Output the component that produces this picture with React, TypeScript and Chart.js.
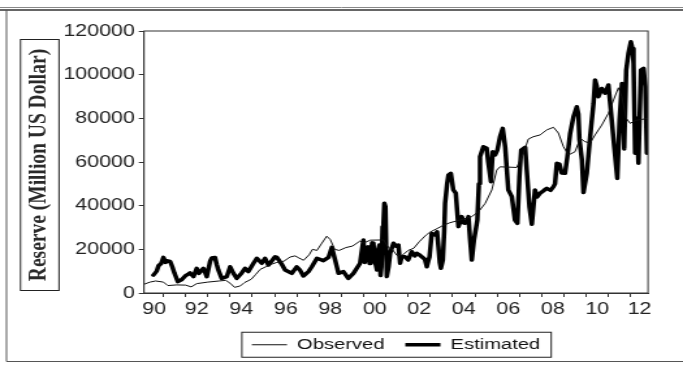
import { useEffect, useRef } from 'react';
import { Chart, registerables } from 'chart.js';

Chart.register(...registerables);

// ---------- data ----------
const OBS_T = [
  1990.13, 1990.4, 1990.65, 1991.0, 1991.2, 1991.6, 1992.0, 1992.25, 1992.5, 1993.0,
  1993.5, 1993.8, 1994.0, 1994.2, 1994.45, 1994.65, 1994.95, 1995.15, 1995.35, 1995.6,
  1995.8, 1996.1, 1996.4, 1996.7, 1996.92, 1997.1, 1997.3, 1997.55, 1997.7, 1997.9,
  1998.1, 1998.34, 1998.5, 1998.7, 1998.9, 1999.2, 1999.5, 1999.84, 2000.0, 2000.3,
  2000.9, 2001.1, 2001.3, 2001.5, 2001.7, 2002.0, 2002.25, 2002.5, 2002.8, 2003.0,
  2003.3, 2003.58, 2003.88, 2004.33, 2004.86, 2005.16, 2005.46, 2005.76, 2005.98, 2006.13,
  2006.88, 2007.18, 2007.4, 2007.63, 2007.93, 2008.23, 2008.53, 2008.75, 2008.98, 2009.2,
  2009.5, 2009.73, 2009.95, 2010.18, 2010.4, 2010.7, 2011.0, 2011.23, 2011.45, 2011.6,
  2011.8, 2011.98, 2012.2, 2012.5, 2012.78,
];
const OBS_V = [
  4000, 5000, 5500, 5000, 3400, 3700, 3600, 2800, 4300, 5000,
  5500, 5800, 4500, 2600, 3200, 4800, 6300, 8500, 10800, 12000,
  13000, 14000, 14500, 16500, 17000, 16000, 15000, 17500, 20000, 19500,
  22500, 26000, 24500, 20000, 19500, 20800, 21500, 23800, 22900, 24200,
  24300, 21000, 19800, 17200, 17000, 19500, 20500, 23500, 26500, 28000,
  29500, 31000, 32200, 33400, 35000, 37200, 41000, 47200, 56300, 57800,
  57500, 64100, 70500, 71600, 72400, 74700, 75900, 73300, 67000, 63200,
  64700, 70800, 69300, 68700, 72400, 76900, 82300, 88400, 94000, 90000,
  80000, 77700, 79000, 79500, 80000,
];

const EST_T = [
  1990.55, 1990.7, 1990.78, 1990.9, 1991.0, 1991.1, 1991.15, 1991.3, 1991.4, 1991.5,
  1991.65, 1991.83, 1991.98, 1992.1, 1992.2, 1992.35, 1992.5, 1992.6, 1992.8, 1992.95,
  1993.1, 1993.17, 1993.32, 1993.4, 1993.47, 1993.62, 1993.85, 1994.0, 1994.15, 1994.3,
  1994.52, 1994.67, 1994.82, 1995.05, 1995.2, 1995.42, 1995.57, 1995.72, 1996.02, 1996.1,
  1996.3, 1996.47, 1996.77, 1996.99, 1997.14, 1997.29, 1997.52, 1997.67, 1997.9, 1998.19,
  1998.42, 1998.57, 1998.72, 1998.87, 1999.09, 1999.31, 1999.54, 1999.84, 1999.9, 1999.99,
  2000.05, 2000.1, 2000.15, 2000.2, 2000.27, 2000.32, 2000.38, 2000.44, 2000.5, 2000.6,
  2000.66, 2000.71, 2000.76, 2000.8, 2000.85, 2000.89, 2000.93, 2000.98, 2001.04, 2001.12,
  2001.19, 2001.34, 2001.45, 2001.56, 2001.64, 2001.71, 2001.86, 2002.0, 2002.16, 2002.3,
  2002.39, 2002.5, 2002.61, 2002.75, 2002.84, 2002.9, 2002.96, 2003.06, 2003.21, 2003.3,
  2003.36, 2003.42, 2003.47, 2003.56, 2003.62, 2003.66, 2003.75, 2003.81, 2003.92, 2004.03,
  2004.14, 2004.2, 2004.26, 2004.35, 2004.41, 2004.5, 2004.56, 2004.65, 2004.71, 2004.78,
  2004.86, 2004.96, 2005.11, 2005.18, 2005.23, 2005.38, 2005.53, 2005.6, 2005.72, 2005.8,
  2005.91, 2006.01, 2006.13, 2006.25, 2006.36, 2006.5, 2006.66, 2006.8, 2006.91, 2007.0,
  2007.08, 2007.26, 2007.33, 2007.45, 2007.56, 2007.7, 2007.8, 2007.93, 2008.1, 2008.23,
  2008.4, 2008.53, 2008.6, 2008.68, 2008.8, 2008.9, 2009.05, 2009.15, 2009.28, 2009.43,
  2009.58, 2009.65, 2009.7, 2009.81, 2009.88, 2010.03, 2010.18, 2010.33, 2010.4, 2010.47,
  2010.55, 2010.7, 2010.85, 2011.0, 2011.15, 2011.26, 2011.4, 2011.5, 2011.61, 2011.71,
  2011.8, 2011.9, 2012.01, 2012.08, 2012.13, 2012.2, 2012.28, 2012.35, 2012.46, 2012.58,
  2012.66, 2012.73,
];
const EST_V = [
  8200, 10000, 12500, 13500, 16300, 14000, 14800, 14500, 12000, 9000,
  5200, 6200, 7800, 8500, 9200, 7500, 11300, 9000, 11300, 7500,
  14500, 16000, 16300, 13000, 10500, 6700, 7500, 12000, 9000, 6700,
  9200, 11300, 9800, 13600, 15900, 13600, 15900, 12800, 16600, 16300,
  13500, 10500, 9000, 12000, 10500, 7800, 9800, 12000, 15900, 14800,
  16300, 20900, 15100, 9000, 9800, 6700, 9000, 13600, 18000, 24300,
  14000, 21000, 15100, 21200, 13500, 17000, 23000, 22800, 15000, 10500,
  20000, 22000, 8000, 12000, 30400, 32000, 41100, 39500, 7500, 12000,
  18200, 22800, 21500, 22000, 13600, 16600, 16600, 15100, 18900, 17000,
  18200, 17500, 16600, 15500, 12000, 14500, 16600, 27300, 26600, 28000,
  21200, 14000, 11300, 15100, 28000, 41100, 50000, 54000, 54800, 47200,
  45700, 38000, 30400, 33000, 35000, 32000, 31900, 33000, 35000, 25000,
  15100, 24300, 33400, 50000, 62400, 67000, 66300, 60000, 51000, 64700,
  63200, 65500, 71600, 75400, 67000, 47200, 44100, 33400, 31900, 53300,
  65500, 66700, 56300, 39500, 31500, 47200, 44000, 45700, 47000, 47900,
  47000, 48700, 50000, 59400, 59000, 55000, 54800, 62000, 73100, 80700,
  85300, 82000, 70100, 60900, 46000, 54800, 71600, 86800, 97600, 95000,
  89900, 93700, 91500, 95300, 79200, 67000, 52500, 79200, 96000, 66000,
  102100, 109800, 115100, 112000, 105200, 64000, 80000, 59400, 102100, 102900,
  94500, 64000,
];

const Y_TICKS = [0, 20000, 40000, 60000, 80000, 100000, 120000];
const YEAR_TICKS = [
  1991, 1992, 1993, 1994, 1995, 1996, 1997, 1998, 1999, 2000, 2001,
  2002, 2003, 2004, 2005, 2006, 2007, 2008, 2009, 2010, 2011, 2012,
];
const X_LABELS = ['90', '92', '94', '96', '98', '00', '02', '04', '06', '08', '10', '12'];
const X_LABEL_POS = [
  1990.58, 1992.5, 1994.5, 1996.5, 1998.5, 2000.5, 2002.5, 2004.5, 2006.5, 2008.5, 2010.5, 2012.4,
];
const X_MIN = 1990.13;
const X_MAX = 2012.78;
const Y_TITLE = 'Reserve (Million US Dollar)';
const SERIES_NAMES = ['Observed', 'Estimated'];

// ---------- geometry ----------
const SCREEN_W = 683;
const H = 372;
const W = 525; // internal canvas width, stretched horizontally to SCREEN_W
const K = SCREEN_W / W;
const px = (x: number) => x / K;
const FONT = "'Liberation Sans', Arial, Helvetica, sans-serif";

const framePlugin = {
  id: 'frameDeco',
  beforeDraw(chart: any) {
    const ctx = chart.ctx as CanvasRenderingContext2D;
    const line = (x1: number, y1: number, x2: number, y2: number) => {
      ctx.beginPath();
      ctx.moveTo(x1, y1);
      ctx.lineTo(x2, y2);
      ctx.stroke();
    };
    ctx.save();
    ctx.fillStyle = '#ffffff';
    ctx.fillRect(0, 0, chart.width, chart.height);
    // outer frame
    ctx.strokeStyle = '#888';
    ctx.lineWidth = 1;
    line(0, 7.5, W, 7.5);
    ctx.strokeStyle = '#333';
    ctx.lineWidth = 1.5;
    line(0, 10, W, 10);
    ctx.lineWidth = 1;
    ctx.strokeStyle = '#555';
    line(px(6.5), 10, px(6.5), 361.5);
    line(px(6.5), 361.5, W, 361.5);
    // y title box
    ctx.strokeStyle = '#222';
    ctx.lineWidth = 1;
    ctx.strokeRect(px(20.5), 39.5, px(59) - px(20.5), 251);
    ctx.translate(px(39), 165);
    ctx.rotate(-Math.PI / 2);
    ctx.font = "bold 19.5px 'Liberation Serif', 'Times New Roman', serif";
    ctx.fillStyle = '#2a2a2a';
    ctx.textAlign = 'center';
    ctx.textBaseline = 'middle';
    ctx.fillText(Y_TITLE, 0, 0);
    ctx.restore();
  },
  afterDraw(chart: any) {
    const ctx = chart.ctx as CanvasRenderingContext2D;
    const a = chart.chartArea;
    ctx.save();
    ctx.strokeStyle = '#333';
    ctx.lineWidth = 1;
    ctx.strokeRect(a.left, a.top, a.right - a.left, a.bottom - a.top);
    const hb = chart.legend && chart.legend.legendHitBoxes;
    if (hb && hb.length) {
      const first = hb[0];
      const last = hb[hb.length - 1];
      const cy = first.top + first.height / 2;
      const l = first.left - 7.7;
      const r = last.left + last.width + 8.5;
      ctx.strokeStyle = '#222';
      ctx.strokeRect(l, cy - 12.5, r - l, 25);
    }
    ctx.restore();
  },
};

export default function App() {
  const ref = useRef<HTMLCanvasElement | null>(null);

  useEffect(() => {
    if (!ref.current) return;
    const chart = new Chart(ref.current, {
      type: 'line',
      data: {
        datasets: [
          {
            label: SERIES_NAMES[0],
            data: OBS_T.map((t, i) => ({ x: t, y: OBS_V[i] })),
            borderColor: '#111',
            backgroundColor: '#111',
            borderWidth: 1,
            pointRadius: 0,
            tension: 0,
            fill: false,
          },
          {
            label: SERIES_NAMES[1],
            data: EST_T.map((t, i) => ({ x: t, y: EST_V[i] })),
            borderColor: '#000',
            backgroundColor: '#000',
            borderWidth: 3.5,
            pointRadius: 0,
            tension: 0,
            fill: false,
            borderJoinStyle: 'round',
            borderCapStyle: 'round',
          },
        ],
      },
      options: {
        responsive: false,
        animation: false,
        devicePixelRatio: 1,
        layout: { padding: { left: 48.7, right: 26.9, top: 31, bottom: 9.5 } },
        plugins: {
          legend: {
            position: 'bottom',
            fullSize: false,
            labels: {
              usePointStyle: true,
              pointStyle: 'line',
              pointStyleWidth: 27,
              padding: 16,
              color: '#111',
              font: { size: 15.5, family: FONT },
            },
          },
          tooltip: { enabled: false },
        },
        scales: {
          x: {
            type: 'linear',
            min: X_MIN,
            max: X_MAX,
            afterBuildTicks: (s: any) => {
              s.ticks = [...YEAR_TICKS, ...X_LABEL_POS]
                .sort((a, b) => a - b)
                .map((v) => ({ value: v }));
            },
            afterFit: (s: any) => {
              s.height = 28;
            },
            grid: {
              drawOnChartArea: false,
              tickLength: 4,
              tickColor: (c: any) =>
                c.tick && Number.isInteger(c.tick.value) ? '#333' : 'rgba(0,0,0,0)',
            },
            border: { color: '#333', width: 1 },
            ticks: {
              autoSkip: false,
              maxRotation: 0,
              padding: 3,
              color: '#222',
              font: { size: 16.5, family: FONT },
              callback: (v: any) => {
                const i = X_LABEL_POS.indexOf(Number(v));
                return i >= 0 ? X_LABELS[i] : '';
              },
            },
          },
          y: {
            min: 0,
            max: 120000,
            afterBuildTicks: (s: any) => {
              s.ticks = Y_TICKS.map((v) => ({ value: v }));
            },
            afterFit: (s: any) => {
              s.width = 62;
            },
            grid: { drawOnChartArea: false, tickLength: 4, color: '#333' },
            border: { color: '#333', width: 1 },
            ticks: {
              padding: 3,
              color: '#222',
              font: { size: 16.5, family: FONT },
              callback: (v: any) => String(v),
            },
          },
        },
      },
      plugins: [framePlugin],
    } as any);
    return () => chart.destroy();
  }, []);

  return (
    <div style={{ position: 'absolute', left: 0, top: 0, width: SCREEN_W, height: H, background: '#fff' }}>
      <canvas
        ref={ref}
        width={W}
        height={H}
        style={{ width: SCREEN_W + 'px', height: H + 'px', display: 'block' }}
      />
    </div>
  );
}
